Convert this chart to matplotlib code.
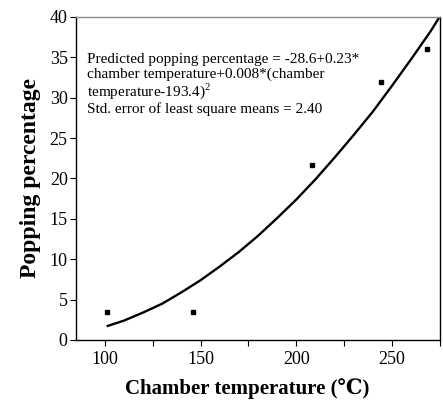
"""
Popping percentage vs chamber temperature with fitted quadratic curve
"""

import matplotlib
matplotlib.use("Agg")
from matplotlib import pyplot as plt

# Observed least-square means
temp_obs = [101, 146, 208, 244, 268]
pop_obs = [3.5, 3.5, 21.7, 32.0, 36.0]

# Fitted curve
temp_fit = [101, 110, 120, 130, 140, 150, 160, 170, 180, 190, 200,
            210, 220, 230, 240, 250, 260, 270, 274.5]
pop_fit = [1.7, 2.4, 3.4, 4.5, 5.9, 7.4, 9.1, 10.9, 12.9, 15.1, 17.4,
           19.9, 22.6, 25.4, 28.3, 31.5, 34.8, 38.2, 39.9]

x_ticks = [100, 150, 200, 250]
x_minor = [125, 175, 225, 275]
y_ticks = [0, 5, 10, 15, 20, 25, 30, 35, 40]

note = ("Predicted popping percentage = -28.6+0.23*\n"
        "chamber temperature+0.008*(chamber\n"
        "temperature-193.4)$^2$\n"
        "Std. error of least square means = 2.40")

plt.rcParams["font.family"] = ["Liberation Serif", "DejaVu Serif"]
plt.rcParams["mathtext.fontset"] = "custom"
plt.rcParams["mathtext.rm"] = "Liberation Serif"

fig = plt.figure(figsize=(4.43, 4.0), dpi=100)
ax = fig.add_axes([0.1716, 0.15, 0.8216, 0.8075])

ax.plot(temp_fit, pop_fit, color="black", lw=1.7, solid_capstyle="butt")
ax.plot(temp_obs, pop_obs, ls="none", marker="s", ms=2.2, color="black")

ax.set_xlim(85, 275)
ax.set_ylim(0, 40)
ax.set_xticks(x_ticks)
ax.set_xticks(x_minor, minor=True)
ax.set_yticks(y_ticks)
ax.tick_params(which="both", direction="out", length=4, width=0.8,
               labelsize=13, colors="black", pad=2)
ax.tick_params(axis="x", pad=4)

for s in ["left", "bottom", "right"]:
    ax.spines[s].set_linewidth(1.0)
ax.spines["top"].set_color("#8c8c8c")
ax.spines["top"].set_linewidth(1.0)

ax.text(90.5, 35.5, note, fontsize=11, va="top", ha="left", linespacing=1.08)

ax.set_xlabel("Chamber temperature (\u2103)", fontsize=15, fontweight="bold")
ax.xaxis.set_label_coords(0.47, -0.118)
ax.set_ylabel("Popping percentage", fontsize=17, fontweight="bold", labelpad=6)

plt.savefig("out.png", dpi=100)
